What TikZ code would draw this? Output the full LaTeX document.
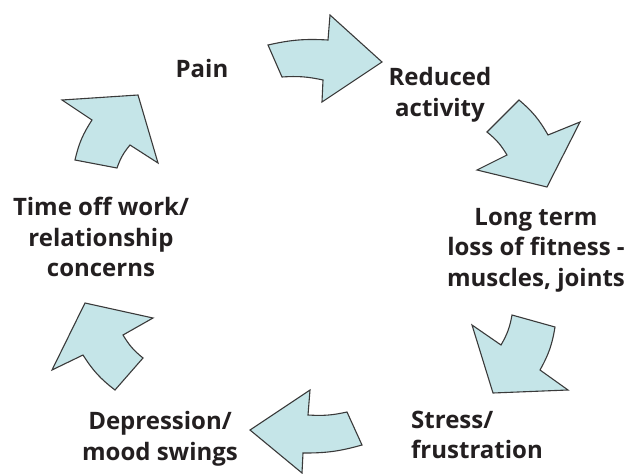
\documentclass[tikz,border=0pt]{standalone}
\usepackage{fontspec}
\setmainfont{Open Sans}
\definecolor{cyclefill}{HTML}{C5E5E8}
\definecolor{cycleline}{HTML}{3A3A3A}
\definecolor{labeltext}{HTML}{231F20}
\tikzset{
  cyclearrow/.style={draw=cycleline,fill=cyclefill,line width=1.1pt,line join=miter},
  cyclelabel/.style={inner sep=0pt,text=labeltext,font=\fontsize{24}{30.5}\selectfont\bfseries,align=center}
}
\begin{document}
\begin{tikzpicture}[x=1pt,y=-1pt]
            \useasboundingbox (0,0) rectangle (632,474);
            \draw[cyclearrow](268,45) to[bend left=8] (328,40) -- (330,15) -- (382,62) -- (322,102) -- (323,80) to[bend right=8] (282,77) -- cycle;
            \draw[cyclearrow](519,100) to[bend left=10] (548,135) -- (580,122) -- (547,187) -- (477,170) -- (507,155) to[bend right=10] (487,132) -- cycle;
            \draw[cyclearrow](555,327) to[bend left=10] (540,370) -- (568,390) -- (493,393) -- (472,325) -- (501,345) to[bend right=10] (512,315) -- cycle;
            \draw[cyclearrow](362,445) to[bend left=8] (303,453) -- (302,473) -- (250,430) -- (310,390) -- (308,415) to[bend right=8] (347,412) -- cycle;
            \draw[cyclearrow](115,390) to[bend left=10] (83,355) -- (52,370) -- (85,303) -- (153,318) -- (123,335) to[bend right=10] (143,358) -- cycle;
            \draw[cyclearrow](75,160) to[bend left=10] (92,120) -- (62,100) -- (138,95) -- (158,163) -- (130,145) to[bend right=10] (117,168) -- cycle;
            \node[cyclelabel](pain)at(202,68){Pain};
            \node[cyclelabel](reduced)at(440,95){Reduced\\activity};
            \node[cyclelabel](fitness)at(536,250){Long term\\loss of fitness -\\muscles, joints};
            \node[cyclelabel,align=left,anchor=west](stress)at(411,435){Stress/\\frustration};
            \node[cyclelabel](depression)at(160,439){Depression/\\mood swings};
            \node[cyclelabel](timeoff)at(101,237){Time off work/\\relationship\\concerns};
        \end{tikzpicture}
\end{document}
